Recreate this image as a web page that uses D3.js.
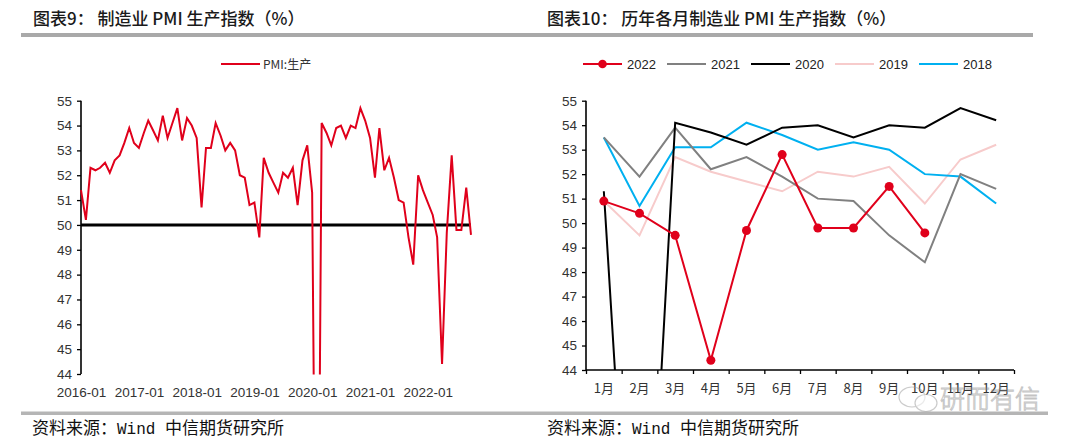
<!DOCTYPE html>
<html><head><meta charset="utf-8">
<script src="https://cdn.jsdelivr.net/npm/d3@7"></script>
<style>
html,body{margin:0;padding:0;background:#fff;}
svg text{font-family:"Liberation Sans",Arial,sans-serif;}
.cjk{font-family:"Noto Sans CJK SC","Noto Sans",sans-serif;}
</style></head>
<body>
<svg id="c" width="1080" height="443"></svg>
<script>
// ---- data ----
const startMonth = "2016-01";
const pmiProduction = [
 51.4,50.2,52.3,52.2,52.3,52.5,52.1,52.6,52.8,53.3,53.9,53.3,
 53.1,53.7,54.2,53.8,53.4,54.4,53.5,54.1,54.7,53.4,54.3,54.0,
 53.5,50.7,53.1,53.1,54.1,53.6,53.0,53.3,53.0,52.0,51.9,50.8,
 50.9,49.5,52.7,52.1,51.7,51.3,52.1,51.9,52.3,50.8,52.6,53.2,
 51.3,27.8,54.1,53.7,53.2,53.9,54.0,53.5,54.0,53.9,54.7,54.2,
 53.5,51.9,53.9,52.2,52.7,51.9,51.0,50.9,49.5,48.4,52.0,51.4,
 50.9,50.4,49.5,44.4,49.7,52.8,49.8,49.8,51.5,49.6
];
const yearTicks = ["2016-01","2017-01","2018-01","2019-01","2020-01","2021-01","2022-01"];
const months = ["1月","2月","3月","4月","5月","6月","7月","8月","9月","10月","11月","12月"];
const y2022 = [50.9,50.4,49.5,44.4,49.7,52.8,49.8,49.8,51.5,49.6];
const y2021 = [53.5,51.9,53.9,52.2,52.7,51.9,51.0,50.9,49.5,48.4,52.0,51.4];
const y2020 = [51.3,27.8,54.1,53.7,53.2,53.9,54.0,53.5,54.0,53.9,54.7,54.2];
const y2019 = [50.9,49.5,52.7,52.1,51.7,51.3,52.1,51.9,52.3,50.8,52.6,53.2];
const y2018 = [53.5,50.7,53.1,53.1,54.1,53.6,53.0,53.3,53.0,52.0,51.9,50.8];
const yTicks = [44,45,46,47,48,49,50,51,52,53,54,55];

const svg = d3.select("#c");
const RED="#e0001b", GRAY="#808080", BLACK="#000", PINK="#f7cbcb", BLUE="#00b0f0";

// ---- headers / rules ----
svg.append("text").attr("class","cjk").attr("x",33).attr("y",24.5).attr("font-size",17).attr("font-weight",500).attr("fill","#1a1a1a").text("图表9： 制造业 PMI 生产指数（%）");
svg.append("text").attr("class","cjk").attr("x",547).attr("y",24.5).attr("font-size",17).attr("font-weight",500).attr("fill","#1a1a1a").text("图表10： 历年各月制造业 PMI 生产指数（%）");
svg.append("rect").attr("x",21).attr("y",33).attr("width",1012).attr("height",4).attr("fill","#a9a9a9");
svg.append("rect").attr("x",21).attr("y",411.5).attr("width",1027).attr("height",3.5).attr("fill","#b5b5b5");
[32,547].forEach(x=>{
  const t = svg.append("text").attr("class","cjk").attr("x",x).attr("y",433.5).attr("font-size",17).attr("fill","#111");
  t.append("tspan").text("资料来源：");
  t.append("tspan").attr("font-family","Liberation Mono, DejaVu Sans Mono, monospace").attr("font-size",16).text("Wind ");
  t.append("tspan").text("中信期货研究所");
});

// ---- left chart ----
const parse = d3.timeParse("%Y-%m");
const t0 = parse(startMonth);
const leftData = pmiProduction.map((v,i)=>({d:d3.timeMonth.offset(t0,i),v}));
const xL = d3.scaleTime().domain([t0, leftData[leftData.length-1].d]).range([81,471]);
const yL = d3.scaleLinear().domain([44,55]).range([374,100.7]);

svg.append("clipPath").attr("id","clipL").append("rect").attr("x",70).attr("y",95).attr("width",420).attr("height",279.5);
svg.append("clipPath").attr("id","clipR").append("rect").attr("x",586).attr("y",95).attr("width",440).attr("height",275);

const axL = svg.append("g").attr("transform","translate(81,0)")
  .call(d3.axisLeft(yL).tickValues(yTicks).tickSize(4).tickPadding(5).tickFormat(d3.format("d")));
axL.select(".domain").attr("stroke","#000").attr("stroke-width",1.6).attr("d",`M-0,${yL(55)}V${yL(44)}`);
axL.selectAll(".tick line").attr("stroke","#000").attr("stroke-width",1.3);
axL.selectAll("text").attr("font-size",13.5).attr("fill","#333");

const axLx = svg.append("g").attr("transform","translate(0,374)")
  .call(d3.axisBottom(xL).tickValues(yearTicks.map(parse)).tickSize(0).tickPadding(13).tickFormat(d3.timeFormat("%Y-%m")));
axLx.select(".domain").remove();
axLx.selectAll("text").attr("font-size",13.5).attr("fill","#333").attr("font-family","DejaVu Sans Condensed, DejaVu Sans, sans-serif");

svg.append("line").attr("x1",81).attr("x2",471).attr("y1",yL(50)).attr("y2",yL(50)).attr("stroke","#000").attr("stroke-width",3);

svg.append("path").datum(leftData).attr("clip-path","url(#clipL)")
  .attr("fill","none").attr("stroke",RED).attr("stroke-width",2).attr("stroke-linejoin","miter")
  .attr("d",d3.line().x(d=>xL(d.d)).y(d=>yL(d.v)));

// left legend
svg.append("line").attr("x1",221).attr("x2",260).attr("y1",64).attr("y2",64).attr("stroke",RED).attr("stroke-width",2);
svg.append("text").attr("class","cjk").attr("x",263).attr("y",68.5).attr("font-size",12).attr("fill","#333").text("PMI:生产");

// ---- right chart ----
const xR = d3.scaleBand().domain(months).range([586,1014]);
const xB = d3.scaleLinear().domain([0,12]).range([586,1014]);
const yR = d3.scaleLinear().domain([44,55]).range([370,100.7]);

const axR = svg.append("g").attr("transform","translate(586,0)")
  .call(d3.axisLeft(yR).tickValues(yTicks).tickSize(4).tickPadding(5).tickFormat(d3.format("d")));
axR.select(".domain").attr("stroke","#000").attr("stroke-width",1.6).attr("d",`M-0,${yR(55)}V${yR(44)}`);
axR.selectAll(".tick line").attr("stroke","#000").attr("stroke-width",1.3);
axR.selectAll("text").attr("font-size",13.5).attr("fill","#333");

const axRx = svg.append("g").attr("transform","translate(0,370)")
  .call(d3.axisBottom(xB).tickValues(d3.range(13)).tickSize(4).tickFormat(""));
axRx.select(".domain").attr("stroke","#000").attr("stroke-width",1.6).attr("d",`M586,0H1014`);
axRx.selectAll(".tick line").attr("stroke","#000").attr("stroke-width",1.3);
svg.append("g").selectAll("text").data(months).join("text").attr("class","cjk")
  .attr("x",d=>xR(d)+xR.bandwidth()/2).attr("y",393).attr("text-anchor","middle")
  .attr("font-size",13).attr("fill","#333").text(d=>d);

const series = [
  {name:"2019",vals:y2019,color:PINK},
  {name:"2018",vals:y2018,color:BLUE},
  {name:"2021",vals:y2021,color:GRAY},
  {name:"2020",vals:y2020,color:BLACK},
  {name:"2022",vals:y2022,color:RED,dots:true}
];
const lineR = d3.line().x((d,i)=>xR(months[i])+xR.bandwidth()/2).y(d=>yR(d));
const gR = svg.append("g").attr("clip-path","url(#clipR)");
series.forEach(s=>{
  gR.append("path").datum(s.vals).attr("fill","none").attr("stroke",s.color).attr("stroke-width",2).attr("d",lineR);
  if(s.dots){
    gR.selectAll(null).data(s.vals).join("circle")
      .attr("cx",(d,i)=>xR(months[i])+xR.bandwidth()/2).attr("cy",d=>yR(d)).attr("r",4.5).attr("fill",s.color);
  }
});

// right legend
const legend = [
  {name:"2022",color:RED,dot:true,x:583},
  {name:"2021",color:GRAY,x:667},
  {name:"2020",color:BLACK,x:751},
  {name:"2019",color:PINK,x:835},
  {name:"2018",color:BLUE,x:919}
];
legend.forEach(l=>{
  svg.append("line").attr("x1",l.x).attr("x2",l.x+39).attr("y1",64).attr("y2",64).attr("stroke",l.color).attr("stroke-width",2);
  if(l.dot) svg.append("circle").attr("cx",l.x+19.5).attr("cy",64).attr("r",4.3).attr("fill",l.color);
  svg.append("text").attr("x",l.x+44).attr("y",69).attr("font-size",13).attr("fill","#222").text(l.name);
});

// watermark
const wm = svg.append("g").attr("opacity",0.5);
wm.append("ellipse").attr("cx",912).attr("cy",397).attr("rx",13).attr("ry",10).attr("fill","none").attr("stroke","#999").attr("stroke-width",1.2);
wm.append("ellipse").attr("cx",926).attr("cy",403).attr("rx",11).attr("ry",8.5).attr("fill","#fff").attr("fill-opacity",0.6).attr("stroke","#999").attr("stroke-width",1.2);
wm.append("text").attr("class","cjk").attr("x",940).attr("y",408).attr("font-size",25).attr("font-weight",300)
  .attr("fill","none").attr("stroke","#888").attr("stroke-width",0.9).text("研而有信");
</script>
</body></html>
